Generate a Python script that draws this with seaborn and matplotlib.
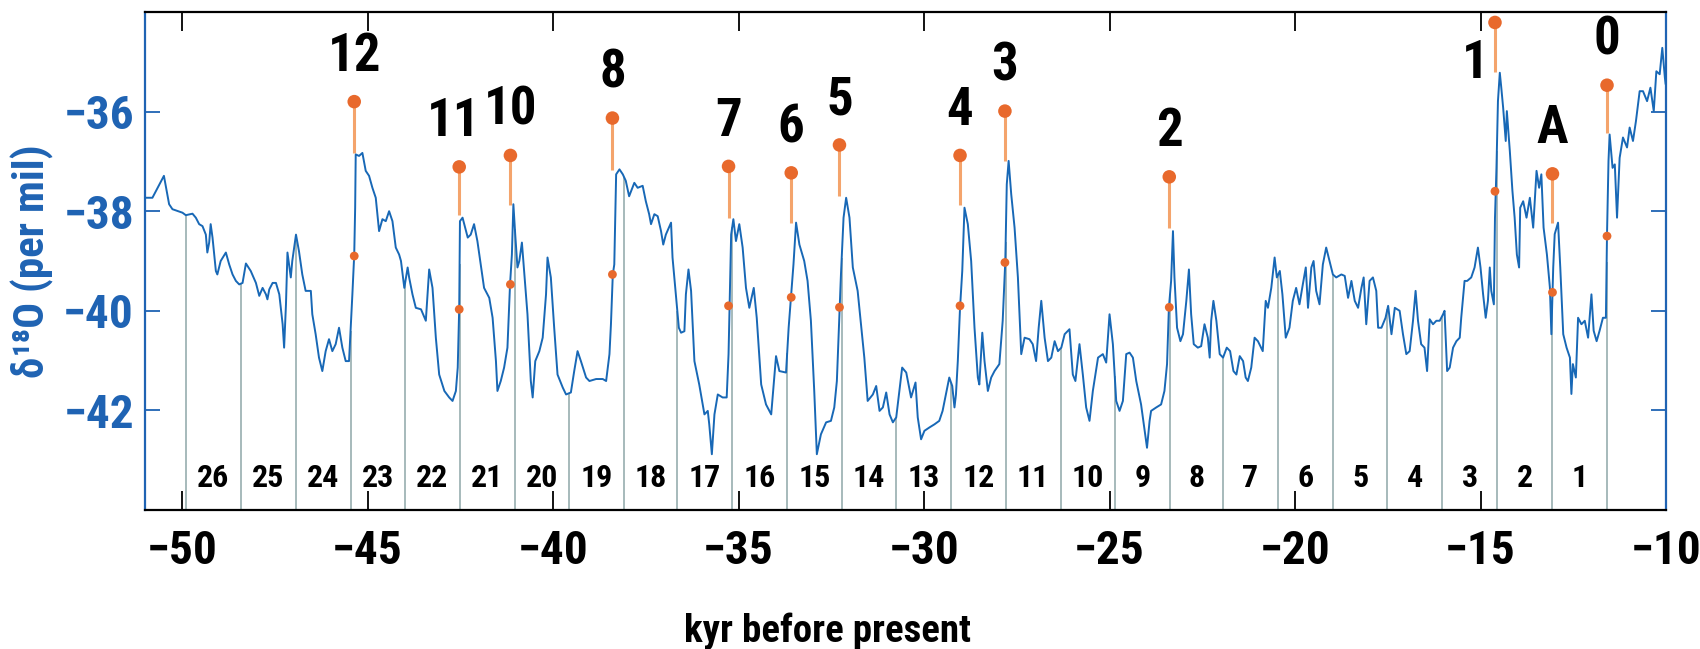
import numpy as np
import pandas as pd
import seaborn as sns
import matplotlib
matplotlib.use("Agg")
import matplotlib.pyplot as plt
from matplotlib import font_manager as fm

# ---------------- data ----------------
time_kyr = [
    -51.02, -50.80, -50.49, -50.35, -50.26, -49.99, -49.90, -49.72, -49.63, -49.54,
    -49.45, -49.36, -49.32, -49.27, -49.23, -49.18, -49.09, -49.05, -48.96, -48.82,
    -48.73, -48.64, -48.55, -48.46, -48.37, -48.28, -48.15, -48.01, -47.92, -47.83,
    -47.74, -47.70, -47.65, -47.56, -47.47, -47.38, -47.29, -47.25, -47.20, -47.16,
    -47.07, -47.03, -46.93, -46.85, -46.76, -46.67, -46.53, -46.49, -46.40, -46.31,
    -46.22, -46.13, -46.04, -45.95, -45.86, -45.77, -45.68, -45.59, -45.50, -45.41,
    -45.36, -45.335, -45.32, -45.23, -45.14, -45.05, -44.96, -44.87, -44.78, -44.69,
    -44.60, -44.51, -44.42, -44.33, -44.24, -44.15,
    -44.10, -44.01, -43.92, -43.88, -43.79, -43.70, -43.56, -43.43, -43.34, -43.25,
    -43.16, -43.07, -42.93, -42.80, -42.71, -42.62, -42.57, -42.53, -42.51, -42.44,
    -42.30, -42.22, -42.13, -42.04, -41.95, -41.86, -41.72, -41.63, -41.54, -41.50,
    -41.41, -41.32, -41.23, -41.16, -41.11, -41.07, -41.02, -40.96, -40.91, -40.84,
    -40.78, -40.69, -40.60, -40.55, -40.48, -40.37, -40.28, -40.19, -40.15, -40.06,
    -39.97, -39.88, -39.74, -39.65, -39.52, -39.43, -39.34, -39.25, -39.11, -39.02,
    -38.84, -38.66, -38.57, -38.48, -38.44, -38.39, -38.35, -38.30, -38.21, -38.12,
    -38.04, -37.95, -37.81, -37.72, -37.585, -37.50, -37.41,
    -37.36, -37.27, -37.18, -37.09, -37.03, -36.96, -36.82, -36.78, -36.69, -36.61,
    -36.55, -36.46, -36.42, -36.35, -36.28, -36.19, -36.06, -35.92, -35.83, -35.79,
    -35.72, -35.65, -35.56, -35.43, -35.32, -35.27, -35.20, -35.14, -35.07, -34.98,
    -34.89, -34.80, -34.71, -34.59, -34.51, -34.39, -34.26, -34.12, -33.99, -33.90,
    -33.72, -33.65, -33.59, -33.52, -33.45, -33.36, -33.23, -33.14, -33.05, -32.96,
    -32.89, -32.78, -32.64, -32.51, -32.42, -32.35, -32.28, -32.24, -32.17, -32.10,
    -32.01, -31.92, -31.79, -31.70, -31.61, -31.52, -31.38, -31.29, -31.20, -31.11,
    -31.02, -30.93, -30.84, -30.75,
    -30.59, -30.48, -30.35, -30.23, -30.17, -30.08, -29.99, -29.85, -29.72, -29.59,
    -29.50, -29.41, -29.32, -29.24, -29.18, -29.14, -29.09, -29.03, -28.97, -28.91,
    -28.82, -28.73, -28.64, -28.55, -28.51, -28.43, -28.37, -28.28, -28.19, -28.10,
    -27.97, -27.88, -27.81, -27.77, -27.72, -27.65, -27.56, -27.47, -27.38, -27.29,
    -27.16, -27.07, -26.98, -26.91, -26.84, -26.75, -26.66, -26.57, -26.48, -26.39,
    -26.30, -26.21, -26.08, -25.99, -25.92, -25.81, -25.72, -25.63, -25.54, -25.45,
    -25.31, -25.18, -25.09, -25.00, -24.91, -24.82, -24.73, -24.64, -24.55, -24.46,
    -24.37, -24.28, -24.15,
    -23.99, -23.92, -23.88, -23.74, -23.61, -23.52, -23.45, -23.40, -23.34, -23.29,
    -23.25, -23.18, -23.09, -23.02, -22.93, -22.86, -22.80, -22.73, -22.62, -22.53,
    -22.44, -22.35, -22.30, -22.26, -22.20, -22.12, -22.03, -21.94, -21.84, -21.75,
    -21.66, -21.58, -21.49, -21.40, -21.33, -21.27, -21.18, -21.09, -21.00, -20.87,
    -20.79, -20.73, -20.64, -20.55, -20.49, -20.41, -20.34, -20.25, -20.15, -20.06,
    -19.97, -19.88, -19.79, -19.71, -19.65, -19.56, -19.50, -19.43, -19.34, -19.25,
    -19.16, -19.07, -18.98, -18.89, -18.75, -18.66, -18.57, -18.48, -18.39, -18.30,
    -18.21, -18.15, -18.08, -17.99, -17.90, -17.81, -17.76, -17.67, -17.56, -17.49,
    -17.40, -17.31, -17.18,
    -17.09, -17.00, -16.91, -16.82, -16.75, -16.685, -16.60, -16.51, -16.44, -16.37,
    -16.28, -16.19, -16.10, -16.01, -15.97, -15.90, -15.83, -15.74, -15.65, -15.56,
    -15.52, -15.43, -15.36, -15.25, -15.16, -15.07, -15.00, -14.93, -14.86, -14.80,
    -14.75, -14.71, -14.64, -14.61, -14.57, -14.53, -14.48, -14.44, -14.39, -14.32,
    -14.29, -14.21, -14.14, -14.08, -14.02, -13.96, -13.93, -13.85, -13.76, -13.67,
    -13.58, -13.49, -13.42, -13.36, -13.30, -13.21, -13.13, -13.09, -13.04, -13.00,
    -12.91, -12.85, -12.77, -12.68, -12.59, -12.55, -12.51, -12.43, -12.37, -12.28,
    -12.19, -12.10, -12.01, -11.95, -11.87, -11.79, -11.70, -11.62, -11.59, -11.55,
    -11.52, -11.44, -11.38, -11.32, -11.25, -11.16, -11.05, -10.98, -10.89, -10.81,
    -10.71, -10.62, -10.51, -10.42, -10.33, -10.26, -10.17, -10.10, -10.03, -10.01,
]
d18o = [
    -37.73, -37.73, -37.29, -37.86, -37.96, -38.03, -38.08, -38.05, -38.13, -38.26,
    -38.30, -38.47, -38.83, -38.63, -38.26, -38.53, -39.20, -39.27, -39.00, -38.83,
    -39.07, -39.27, -39.40, -39.47, -39.44, -39.05, -39.20, -39.44, -39.70, -39.54,
    -39.67, -39.77, -39.57, -39.44, -39.44, -39.67, -40.27, -40.74, -39.87, -38.83,
    -39.33, -39.00, -38.47, -38.80, -39.27, -39.60, -39.60, -40.07, -40.47, -40.94,
    -41.21, -40.81, -40.57, -40.81, -40.67, -40.34, -40.74, -41.01, -41.01, -39.67,
    -38.87, -37.93, -36.86, -36.89, -36.83, -37.19, -37.29, -37.53, -37.73, -38.40,
    -38.16, -38.20, -38.00, -38.20, -38.73, -38.87,
    -39.00, -39.54, -39.13, -39.33, -39.67, -39.94, -39.97, -40.20, -39.17, -39.54,
    -40.54, -41.28, -41.61, -41.74, -41.81, -41.61, -41.14, -39.94, -38.20, -38.13,
    -38.53, -38.47, -38.26, -38.60, -39.07, -39.54, -39.74, -40.14, -41.01, -41.61,
    -41.41, -41.14, -40.74, -39.47, -38.87, -37.86, -38.47, -39.13, -39.00, -38.63,
    -39.20, -40.07, -41.41, -41.74, -41.01, -40.81, -40.54, -39.67, -38.93, -39.33,
    -40.34, -41.28, -41.54, -41.68, -41.64, -41.21, -40.81, -41.01, -41.34, -41.41,
    -41.37, -41.37, -41.41, -40.87, -40.27, -39.27, -39.07, -37.26, -37.16, -37.26,
    -37.39, -37.70, -37.43, -37.53, -37.49, -37.80, -38.06,
    -38.26, -38.06, -38.10, -38.40, -38.67, -38.47, -38.23, -38.93, -39.67, -40.34,
    -40.44, -40.41, -39.67, -39.17, -39.60, -41.01, -41.48, -42.08, -42.01, -42.28,
    -42.88, -42.08, -41.68, -41.74, -41.74, -40.87, -38.47, -38.16, -38.60, -38.26,
    -38.73, -39.54, -39.94, -39.54, -40.14, -41.48, -41.88, -42.08, -40.91, -41.21,
    -41.24, -40.34, -39.74, -39.07, -38.23, -38.67, -39.00, -39.40, -40.20, -41.61,
    -42.88, -42.48, -42.24, -42.21, -41.94, -41.41, -40.07, -39.27, -38.13, -37.73,
    -38.13, -39.13, -39.60, -40.27, -40.94, -41.81, -41.68, -41.51, -42.01, -41.94,
    -41.64, -42.08, -42.24, -42.14,
    -41.14, -41.24, -41.74, -41.44, -42.14, -42.58, -42.41, -42.34, -42.28, -42.21,
    -42.01, -41.68, -41.34, -41.51, -41.94, -41.68, -41.01, -39.94, -39.20, -37.93,
    -38.26, -39.00, -40.34, -41.34, -41.48, -40.44, -41.01, -41.61, -41.34, -41.21,
    -41.07, -40.20, -39.00, -37.46, -36.99, -37.66, -38.33, -39.33, -40.87, -40.54,
    -40.57, -40.67, -41.01, -40.34, -39.80, -40.54, -41.01, -40.94, -40.61, -40.81,
    -40.74, -40.47, -40.37, -41.28, -41.41, -40.67, -41.28, -41.94, -42.21, -41.61,
    -40.94, -40.87, -41.04, -40.07, -40.67, -41.81, -42.01, -41.81, -40.87, -40.84,
    -40.94, -41.41, -41.88,
    -42.75, -42.21, -42.01, -41.94, -41.88, -41.61, -41.07, -39.94, -39.40, -38.40,
    -39.33, -40.34, -40.61, -40.47, -39.80, -39.17, -40.07, -40.67, -40.74, -40.71,
    -40.27, -40.54, -40.94, -40.20, -39.80, -40.20, -40.87, -40.94, -40.74, -40.81,
    -41.21, -41.28, -40.91, -41.01, -41.34, -41.41, -41.14, -40.54, -40.61, -40.81,
    -39.80, -39.94, -39.54, -38.93, -39.33, -39.20, -39.67, -40.54, -40.34, -39.80,
    -39.54, -39.87, -39.47, -39.13, -39.94, -39.13, -39.00, -39.60, -39.87, -39.07,
    -38.73, -39.00, -39.27, -39.33, -39.27, -39.30, -39.74, -39.40, -39.80, -39.94,
    -39.54, -39.33, -40.27, -39.40, -39.33, -39.60, -40.34, -40.34, -40.14, -39.90,
    -40.47, -39.94, -40.00,
    -40.47, -40.87, -40.81, -40.20, -39.60, -40.20, -40.67, -40.74, -41.21, -40.17,
    -40.27, -40.20, -40.20, -40.07, -40.00, -41.21, -41.14, -40.74, -40.61, -40.54,
    -40.14, -39.40, -39.40, -39.33, -39.13, -38.73, -39.13, -39.67, -40.14, -39.80,
    -39.13, -39.60, -39.87, -38.13, -37.13, -35.79, -35.22, -35.52, -35.92, -36.59,
    -35.99, -36.79, -37.59, -38.13, -38.87, -39.13, -37.93, -37.80, -38.13, -37.73,
    -38.33, -37.19, -37.53, -37.26, -38.33, -38.87, -39.53, -40.47, -39.13, -38.46,
    -38.23, -39.13, -40.47, -40.74, -40.94, -41.67, -41.07, -41.34, -40.14, -40.27,
    -40.20, -40.54, -39.67, -40.40, -40.61, -40.40, -40.14, -40.14, -38.46, -36.99,
    -36.46, -37.13, -37.06, -38.13, -36.93, -36.52, -36.72, -36.32, -36.59, -36.19,
    -35.59, -35.59, -35.79, -35.52, -35.99, -35.19, -35.25, -34.72, -35.32, -35.45,
]

# Dansgaard-Oeschger events: label, time, upper dot, top of stem (peak), lower dot
event_labels = ["12", "11", "10", "8", "7", "6", "5", "4", "3", "2", "1", "A", "0"]
event_time = [-45.36, -42.53, -41.15, -38.40, -35.27, -33.58, -32.28, -29.03,
              -27.82, -23.39, -14.61, -13.06, -11.59]
event_top = [-35.80, -37.11, -36.88, -36.13, -37.10, -37.23, -36.67, -36.88,
             -35.99, -37.31, -34.21, -37.25, -35.47]
event_stem_end = [-36.83, -38.07, -37.87, -37.17, -38.13, -38.23, -37.70, -37.87,
                  -37.00, -38.33, -35.20, -38.23, -36.43]
event_low = [-38.90, -39.97, -39.47, -39.27, -39.90, -39.73, -39.93, -39.90,
             -39.03, -39.93, -37.60, -39.63, -38.50]

# 1470-yr cycle boundaries and cycle numbers
cycle_bounds = [-49.90, -48.41, -46.94, -45.46, -43.99, -42.52, -41.03, -39.56,
                -38.09, -36.65, -35.17, -33.69, -32.22, -30.76, -29.27, -27.80,
                -26.32, -24.86, -23.37, -21.94, -20.46, -18.98, -17.51, -16.03,
                -14.56, -13.07, -11.60]
cycle_numbers = list(range(26, 0, -1))

x_ticks = [-50, -45, -40, -35, -30, -25, -20, -15, -10]
y_ticks = [-36, -38, -40, -42]

# ---------------- font: look for a narrow / condensed sans ----------------
def pick_font():
    entries = fm.fontManager.ttflist
    names = {f.name for f in entries}
    if "Liberation Sans Narrow" in names:
        return "Liberation Sans Narrow", "normal", 1.0
    for fam in ["Roboto Condensed", "Open Sans Condensed", "Noto Sans Condensed",
                "DejaVu Sans Condensed", "Arial Narrow"]:
        if fam in names:
            return fam, "normal", 1.0
    for fam in ["DejaVu Sans", "Noto Sans", "Open Sans", "Roboto"]:
        for f in entries:
            if f.name == fam and str(f.stretch) in ("condensed", "semi-condensed",
                                                    "extra-condensed"):
                return fam, str(f.stretch), 1.0
    for f in entries:
        if ("Narrow" in f.name or "Condensed" in f.name) and "Mono" not in f.name:
            return f.name, "normal", 1.0
    return "Liberation Sans", "normal", 0.86

FAM, STRETCH, SC = pick_font()


def fp(size):
    return fm.FontProperties(family=[FAM, "DejaVu Sans"], stretch=STRETCH,
                             weight="bold", size=size * SC)


# ---------------- style ----------------
sns.set_theme(style="white")
plt.rcParams["font.family"] = [FAM, "DejaVu Sans"]
plt.rcParams["font.weight"] = "bold"
plt.rcParams["axes.unicode_minus"] = True

BLUE_AX = "#1f63b3"
BLUE_LINE = "#1868b6"
GREY_LINE = "#8ea7a8"
ORANGE_DOT = "#e8692c"
ORANGE_STEM = "#f4a46c"

fig = plt.figure(figsize=(17, 6.49), dpi=100)
ax = fig.add_axes([145 / 1700, 1 - 510 / 649, 1521 / 1700, 498 / 649])

df = pd.DataFrame({"time": time_kyr, "d18o": d18o})

ax.set_xlim(-51.0, -10.0)
ax.set_ylim(-44.0, -34.0)

# cycle boundary lines from bottom up to the curve
bound_top = np.interp(cycle_bounds, df["time"], df["d18o"])
ax.vlines(cycle_bounds, -44.0, bound_top, color=GREY_LINE, lw=1.1, zorder=1)

# main curve
sns.lineplot(data=df, x="time", y="d18o", ax=ax, color=BLUE_LINE, lw=1.4,
             sort=False, estimator=None, zorder=3)

# event stems and dots
ax.vlines(event_time, event_stem_end, event_top, color=ORANGE_STEM, lw=2.2, zorder=2)
sns.scatterplot(x=event_time, y=event_top, ax=ax, color=ORANGE_DOT, s=95,
                edgecolor="none", zorder=4)
sns.scatterplot(x=event_time, y=event_low, ax=ax, color=ORANGE_DOT, s=40,
                edgecolor="none", zorder=4)

label_offsets = {"1": (-14, -48), "11": (-4, 14)}
for lab, t, top in zip(event_labels, event_time, event_top):
    dx, dy = label_offsets.get(lab, (0, 14))
    ax.annotate(lab, xy=(t, top), xytext=(dx, dy), textcoords="offset points",
                ha="center", va="bottom", fontproperties=fp(38),
                color="black", zorder=5)

# cycle numbers
for n, a, b in zip(cycle_numbers, cycle_bounds[:-1], cycle_bounds[1:]):
    ax.text((a + b) / 2, -43.35, str(n), ha="center", va="center",
            fontproperties=fp(23), color="black", zorder=5)

# axes cosmetics
ax.set_xticks(x_ticks)
ax.set_yticks(y_ticks)
ax.tick_params(axis="x", direction="in", length=14, width=1.3, top=True,
               bottom=True, pad=14, colors="black")
ax.tick_params(axis="y", direction="in", length=11, width=1.3, left=True,
               right=True, pad=8, colors=BLUE_AX)
for lbl in ax.get_xticklabels() + ax.get_yticklabels():
    lbl.set_fontproperties(fp(34))

for side in ["top", "bottom"]:
    ax.spines[side].set_color("black")
    ax.spines[side].set_linewidth(1.6)
for side in ["left", "right"]:
    ax.spines[side].set_color(BLUE_AX)
    ax.spines[side].set_linewidth(1.6)

ax.set_xlabel("kyr before present", fontproperties=fp(28), color="black")
ax.xaxis.set_label_coords(0.449, -0.205)
ax.set_ylabel("δ¹⁸O (per mil)", fontproperties=fp(31), color=BLUE_AX)
ax.yaxis.set_label_coords(-0.060, 0.5)

fig.savefig("out.png", dpi=100, facecolor="white")
